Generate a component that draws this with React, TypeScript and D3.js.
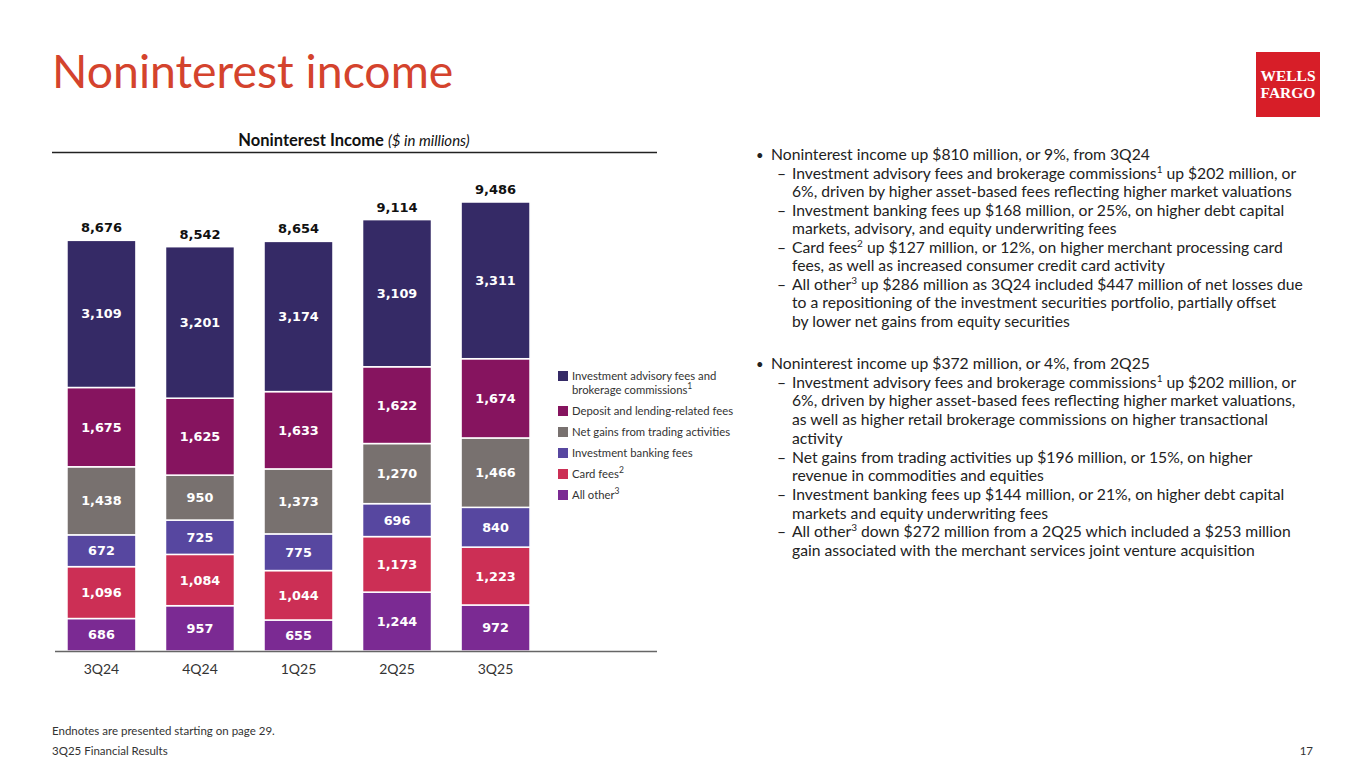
import React from "react";
import * as d3 from "d3";

const categories = ["3Q24", "4Q24", "1Q25", "2Q25", "3Q25"];
const allOther = [686, 957, 655, 1244, 972];
const cardFees = [1096, 1084, 1044, 1173, 1223];
const investmentBanking = [672, 725, 775, 696, 840];
const tradingGains = [1438, 950, 1373, 1270, 1466];
const depositFees = [1675, 1625, 1633, 1622, 1674];
const advisoryFees = [3109, 3201, 3174, 3109, 3311];
const totals = [8676, 8542, 8654, 9114, 9486];

const seriesNames = [
  "All other",
  "Card fees",
  "Investment banking fees",
  "Net gains from trading activities",
  "Deposit and lending-related fees",
  "Investment advisory fees and brokerage commissions",
];
const seriesValues = [allOther, cardFees, investmentBanking, tradingGains, depositFees, advisoryFees];
const seriesColors = ["#7b2a93", "#cc2f55", "#5747a0", "#78716f", "#86145f", "#352a66"];

type Seg = { text: string; sup?: string };
type Line = { kind: "main" | "sub" | "cont"; segs: Seg[] };
const bullets1: Line[] = [
  { kind: "main", segs: [{ text: "Noninterest income up $810 million, or 9%, from 3Q24" }] },
  { kind: "sub", segs: [{ text: "Investment advisory fees and brokerage commissions", sup: "1" }, { text: " up $202 million, or" }] },
  { kind: "cont", segs: [{ text: "6%, driven by higher asset-based fees reflecting higher market valuations" }] },
  { kind: "sub", segs: [{ text: "Investment banking fees up $168 million, or 25%, on higher debt capital" }] },
  { kind: "cont", segs: [{ text: "markets, advisory, and equity underwriting fees" }] },
  { kind: "sub", segs: [{ text: "Card fees", sup: "2" }, { text: " up $127 million, or 12%, on higher merchant processing card" }] },
  { kind: "cont", segs: [{ text: "fees, as well as increased consumer credit card activity" }] },
  { kind: "sub", segs: [{ text: "All other", sup: "3" }, { text: " up $286 million as 3Q24 included $447 million of net losses due" }] },
  { kind: "cont", segs: [{ text: "to a repositioning of the investment securities portfolio, partially offset" }] },
  { kind: "cont", segs: [{ text: "by lower net gains from equity securities" }] },
];
const bullets2: Line[] = [
  { kind: "main", segs: [{ text: "Noninterest income up $372 million, or 4%, from 2Q25" }] },
  { kind: "sub", segs: [{ text: "Investment advisory fees and brokerage commissions", sup: "1" }, { text: " up $202 million, or" }] },
  { kind: "cont", segs: [{ text: "6%, driven by higher asset-based fees reflecting higher market valuations," }] },
  { kind: "cont", segs: [{ text: "as well as higher retail brokerage commissions on higher transactional" }] },
  { kind: "cont", segs: [{ text: "activity" }] },
  { kind: "sub", segs: [{ text: "Net gains from trading activities up $196 million, or 15%, on higher" }] },
  { kind: "cont", segs: [{ text: "revenue in commodities and equities" }] },
  { kind: "sub", segs: [{ text: "Investment banking fees up $144 million, or 21%, on higher debt capital" }] },
  { kind: "cont", segs: [{ text: "markets and equity underwriting fees" }] },
  { kind: "sub", segs: [{ text: "All other", sup: "3" }, { text: " down $272 million from a 2Q25 which included a $253 million" }] },
  { kind: "cont", segs: [{ text: "gain associated with the merchant services joint venture acquisition" }] },
];

const legendItems: { lines: string[]; sup?: string; color: string }[] = [
  { lines: ["Investment advisory fees and", "brokerage commissions"], sup: "1", color: seriesColors[5] },
  { lines: ["Deposit and lending-related fees"], color: seriesColors[4] },
  { lines: ["Net gains from trading activities"], color: seriesColors[3] },
  { lines: ["Investment banking fees"], color: seriesColors[2] },
  { lines: ["Card fees"], sup: "2", color: seriesColors[1] },
  { lines: ["All other"], sup: "3", color: seriesColors[0] },
];

const TEXT_FONT = "Lato, 'Open Sans', sans-serif";
const NUM_FONT = "'DejaVu Sans', Verdana, sans-serif";

function renderSegs(segs: Seg[], supSize: number, supShift: number) {
  const out: React.ReactNode[] = [];
  let raised = false;
  segs.forEach((s, j) => {
    out.push(
      <tspan key={"t" + j} dy={raised ? supShift : undefined}>{s.text}</tspan>
    );
    raised = false;
    if (s.sup) {
      out.push(
        <tspan key={"s" + j} fontSize={supSize} dy={-supShift}>{s.sup}</tspan>
      );
      raised = true;
    }
  });
  return out;
}

function BulletBlock({ items, y0, step }: { items: Line[]; y0: number; step: number }) {
  return (
    <g fontFamily={TEXT_FONT} fontSize={15.7} fill="#222">
      {items.map((it, i) => {
        const yy = y0 + i * step;
        const xx = it.kind === "main" ? 771 : 792;
        return (
          <g key={i}>
            {it.kind === "main" && (
              <text x={756} y={yy} fontSize={13}>•</text>
            )}
            {it.kind === "sub" && (
              <text x={777} y={yy}>–</text>
            )}
            <text x={xx} y={yy}>{renderSegs(it.segs, 10, 6)}</text>
          </g>
        );
      })}
    </g>
  );
}

export default function App() {
  const baseline = 651;
  const x = d3.scaleBand<string>().domain(categories).range([52, 545]).paddingInner(0.3).paddingOuter(0.152);
  const y = d3.scaleLinear().domain([0, 9486]).range([baseline, 202]);

  const stackData = categories.map((c, i) => {
    const row: Record<string, number | string> = { cat: c };
    seriesNames.forEach((n, k) => (row[n] = seriesValues[k][i]));
    return row;
  });
  const stack = d3.stack<Record<string, number | string>>().keys(seriesNames)(stackData as any);

  return (
    <svg width={1365} height={768} style={{ position: "absolute", left: 0, top: 0, background: "#fff" }}>
      <rect width={1365} height={768} fill="#fff" />
      {/* Title */}
      <text x={52} y={88} fontFamily={TEXT_FONT} fontSize={46.4} fill="#d4432d">Noninterest income</text>

      {/* Logo */}
      <rect x={1256} y={52} width={64} height={65} fill="#d71e28" />
      <text x={1288} y={81} textAnchor="middle" fontFamily="'Liberation Serif', serif" fontWeight="bold" fontSize={15.5} fill="#fff">WELLS</text>
      <text x={1288} y={97.5} textAnchor="middle" fontFamily="'Liberation Serif', serif" fontWeight="bold" fontSize={15.5} fill="#fff">FARGO</text>

      {/* Chart title */}
      <text x={354} y={146} textAnchor="middle" fontFamily={TEXT_FONT} fill="#111">
        <tspan fontWeight="bold" fontSize={16.5}>Noninterest Income </tspan>
        <tspan fontStyle="italic" fontSize={15}>($ in millions)</tspan>
      </text>
      <line x1={52} x2={657} y1={152.5} y2={152.5} stroke="#222" strokeWidth={1.5} />

      {/* Bars */}
      {stack.map((layer, k) => (
        <g key={k}>
          {layer.map((d, i) => {
            const x0 = x(categories[i])!;
            const top = y(d[1]);
            const bot = y(d[0]);
            return (
              <g key={i}>
                <rect x={x0} y={top} width={x.bandwidth()} height={bot - top} fill={seriesColors[k]} stroke="#fff" strokeWidth={1.5} />
                <text x={x0 + x.bandwidth() / 2} y={(top + bot) / 2 + 4.5} textAnchor="middle" fontFamily={NUM_FONT} fontWeight="bold" fontSize={12.8} fill="#fff">
                  {d3.format(",")(seriesValues[k][i])}
                </text>
              </g>
            );
          })}
        </g>
      ))}

      {/* Totals */}
      {categories.map((c, i) => (
        <text key={c} x={x(c)! + x.bandwidth() / 2} y={y(totals[i]) - 8} textAnchor="middle" fontFamily={NUM_FONT} fontWeight="bold" fontSize={13} fill="#111">
          {d3.format(",")(totals[i])}
        </text>
      ))}

      {/* Axis */}
      <line x1={55} x2={657} y1={baseline + 0.5} y2={baseline + 0.5} stroke="#666" strokeWidth={1.5} />
      {categories.map((c) => (
        <text key={c} x={x(c)! + x.bandwidth() / 2} y={674} textAnchor="middle" fontFamily={TEXT_FONT} fontSize={14} fill="#333">{c}</text>
      ))}

      {/* Legend */}
      <g fontFamily={TEXT_FONT} fontSize={11.3} fill="#333">
        {legendItems.map((it, i) => {
          const cy = i === 0 ? 376 : 411 + (i - 1) * 21;
          return (
            <g key={i}>
              <rect x={558} y={cy - 5} width={10} height={10} fill={it.color} />
              {it.lines.map((l, j) => (
                <text key={j} x={572} y={cy + 4 + j * 14}>
                  {l}
                  {j === it.lines.length - 1 && it.sup && (
                    <tspan fontSize={8.5} dy={-5}>{it.sup}</tspan>
                  )}
                </text>
              ))}
            </g>
          );
        })}
      </g>

      {/* Bullets */}
      <BulletBlock items={bullets1} y0={160} step={18.5} />
      <BulletBlock items={bullets2} y0={369} step={18.7} />

      {/* Footer */}
      <g fontFamily={TEXT_FONT} fontSize={11.5} fill="#333">
        <text x={52} y={735}>Endnotes are presented starting on page 29.</text>
        <text x={52} y={754.5}>3Q25 Financial Results</text>
        <text x={1313} y={754.5} textAnchor="end">17</text>
      </g>
    </svg>
  );
}
